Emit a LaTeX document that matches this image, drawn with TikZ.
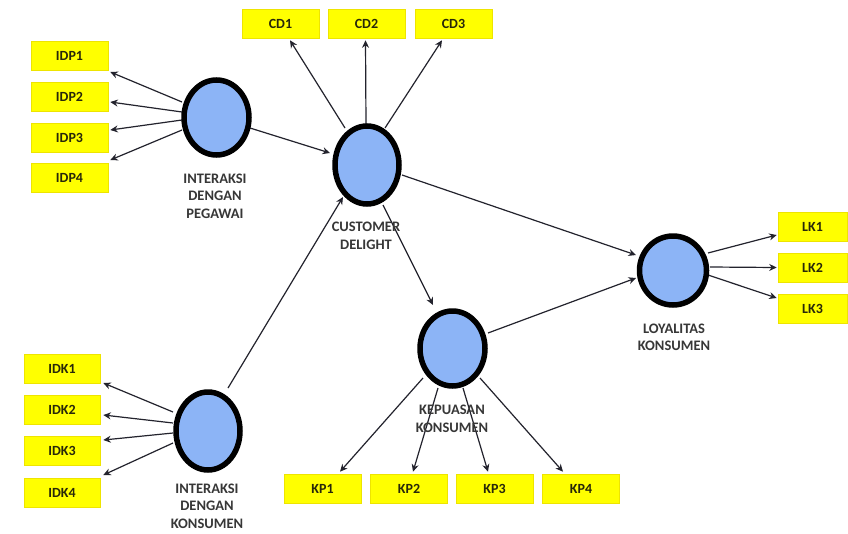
\documentclass[tikz,border=0pt]{standalone}
\usepackage{fontspec}
\setmainfont{Carlito}
\usetikzlibrary{shapes.geometric,arrows.meta,calc,backgrounds}
\definecolor{latfill}{RGB}{140,180,246}
\definecolor{boxfill}{RGB}{255,255,0}
\definecolor{boxedge}{RGB}{238,228,0}
\definecolor{boxtext}{RGB}{40,40,10}
\definecolor{labtext}{RGB}{55,55,55}
\definecolor{arrowcol}{RGB}{35,35,45}
\begin{document}
\begin{tikzpicture}[x=1pt,y=-1pt,
  latent/.style={ellipse,draw=black,line width=5.5pt,fill=latfill,inner sep=0pt},
  ind/.style={rectangle,fill=boxfill,draw=boxedge,line width=0.6pt,minimum width=77pt,minimum height=29pt,inner sep=0pt,text=boxtext,font=\bfseries\fontsize{14}{16}\selectfont},
  lab/.style={align=center,text=labtext,inner sep=0pt,font=\bfseries\fontsize{14.5}{17.5}\selectfont},
  conn/.style={draw=arrowcol,line width=1.2pt,-{Stealth[length=7.5pt,width=7pt]}}]
\useasboundingbox (0,0) rectangle (848,533);
% latent variables
\node[latent,minimum width=65pt,minimum height=75pt] (idp) at (216.5,117.5) {};
\node[latent,minimum width=64pt,minimum height=78pt] (cd) at (367,165) {};
\node[latent,minimum width=64pt,minimum height=78pt] (idk) at (208,431) {};
\node[latent,minimum width=65pt,minimum height=75pt] (kp) at (452.5,348.5) {};
\node[latent,minimum width=67pt,minimum height=69pt] (lk) at (673,270.5) {};
% labels
\node[lab] (idplab) at (215,196) {INTERAKSI\\DENGAN\\PEGAWAI};
\node[lab] (cdlab) at (366,236) {CUSTOMER\\DELIGHT};
\node[lab] (idklab) at (207,506) {INTERAKSI\\DENGAN\\KONSUMEN};
\node[lab] (kplab) at (452,419) {KEPUASAN\\KONSUMEN};
\node[lab] (lklab) at (674,337.5) {LOYALITAS\\KONSUMEN};
% indicators
\node[ind] (IDP1) at (69.5,56) {IDP1};
\node[ind] (IDP2) at (69.5,96.5) {IDP2};
\node[ind] (IDP3) at (69.5,137.5) {IDP3};
\node[ind] (IDP4) at (69.5,178) {IDP4};
\node[ind,minimum width=76pt] (IDK1) at (62,369) {IDK1};
\node[ind,minimum width=76pt] (IDK2) at (62,410) {IDK2};
\node[ind,minimum width=76pt] (IDK3) at (62,451) {IDK3};
\node[ind,minimum width=76pt] (IDK4) at (62,492.5) {IDK4};
\node[ind] (CD1) at (280.5,23.5) {CD1};
\node[ind] (CD2) at (366.5,23.5) {CD2};
\node[ind] (CD3) at (453.5,23.5) {CD3};
\node[ind] (KP1) at (322.5,488.5) {KP1};
\node[ind] (KP2) at (409,488.5) {KP2};
\node[ind] (KP3) at (494.5,488.5) {KP3};
\node[ind] (KP4) at (581,488.5) {KP4};
\node[ind,minimum width=69pt] (LK1) at (812.5,227) {LK1};
\node[ind,minimum width=69pt] (LK2) at (812.5,267.5) {LK2};
\node[ind,minimum width=69pt] (LK3) at (812.5,308.5) {LK3};
% connectors
\begin{scope}[on background layer]
\fill[white] (0,0) rectangle (848,533);
\draw[conn] ($(idp.center)+(-34.5,-15.5)$) -- ($(IDP1.east)+(2,16)$);
\draw[conn] ($(idp.center)+(-34.5,-5.5)$) -- ($(IDP2.east)+(2,5.5)$);
\draw[conn] ($(idp.center)+(-34.5,2.5)$) -- ($(IDP3.east)+(2,-7.5)$);
\draw[conn] ($(idp.center)+(-34.5,12.5)$) -- ($(IDP4.east)+(2,-18)$);
\draw[conn] ($(idk.center)+(-35,-19)$) -- ($(IDK1.east)+(3,14)$);
\draw[conn] ($(idk.center)+(-35,-8)$) -- ($(IDK2.east)+(3,5)$);
\draw[conn] ($(idk.center)+(-35,2)$) -- ($(IDK3.east)+(3,-11)$);
\draw[conn] ($(idk.center)+(-35,12)$) -- ($(IDK4.east)+(3,-17.5)$);
\draw[conn] ($(cd.center)+(-22,-37)$) -- ($(CD1.south)+(9.5,2)$);
\draw[conn] ($(cd.center)+(-1,-40)$) -- ($(CD2.south)+(-1,2)$);
\draw[conn] ($(cd.center)+(18,-37)$) -- ($(CD3.south)+(-11.5,2)$);
\draw[conn] ($(idp.center)+(33.5,10.5)$) -- ($(cd.center)+(-37,-12)$);
\draw[conn] ($(idk.center)+(20,-43)$) -- ($(cd.center)+(-24,32)$);
\draw[conn] ($(cd.center)+(16,40)$) -- ($(kp.center)+(-19.5,-43.5)$);
\draw[conn] ($(cd.center)+(35,10)$) -- ($(lk.center)+(-37,-15.5)$);
\draw[conn] ($(kp.center)+(35.5,-15.5)$) -- ($(lk.center)+(-37,7.5)$);
\draw[conn] ($(lk.center)+(35,-17.5)$) -- ($(LK1.west)+(-1,8)$);
\draw[conn] ($(lk.center)+(37,-3.5)$) -- ($(LK2.west)+(-1,0)$);
\draw[conn] ($(lk.center)+(35,4.5)$) -- ($(LK3.west)+(-1,-10.5)$);
\draw[conn] ($(kp.center)+(-29.5,29.5)$) -- ($(KP1.north)+(17.5,-2)$);
\draw[conn] ($(kp.center)+(-14.5,39.5)$) -- ($(KP2.north)+(4,-2)$);
\draw[conn] ($(kp.center)+(10.5,39.5)$) -- ($(KP3.north)+(-6.5,-2)$);
\draw[conn] ($(kp.center)+(27.5,29.5)$) -- ($(KP4.north)+(-18,-2)$);
\end{scope}
\end{tikzpicture}
\end{document}
